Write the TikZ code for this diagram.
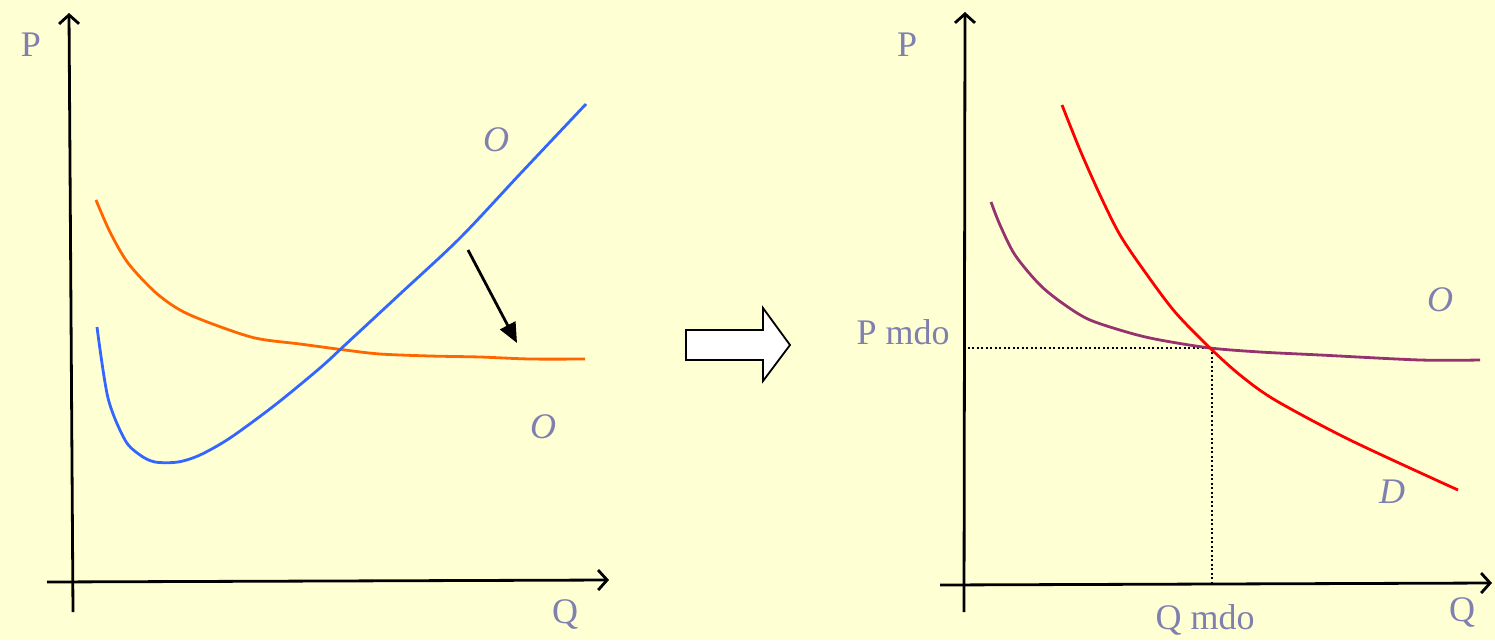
\documentclass[tikz,border=0pt]{standalone}
\usepackage{fontspec}
\setmainfont{Liberation Serif}
\usetikzlibrary{arrows.meta}
\definecolor{bg}{RGB}{255,255,212}
\definecolor{lbl}{RGB}{128,128,176}
\definecolor{bluec}{RGB}{51,102,255}
\definecolor{orangec}{RGB}{255,102,0}
\definecolor{purplec}{RGB}{150,50,110}
\definecolor{redc}{RGB}{255,0,0}
\tikzset{
  axis/.style={line width=2.8pt,-{Straight Barb[length=9pt,width=20pt,line width=2.8pt]}},
  lab/.style={text=lbl,font=\fontsize{36}{36}\selectfont,inner sep=0pt},
  ilab/.style={lab,font=\fontsize{36}{36}\selectfont\itshape},
  curve/.style={line width=2.8pt,smooth,tension=0.5},
  guide/.style={line width=2.5pt,dash pattern=on 2pt off 2.5pt}
}
\begin{document}
\begin{tikzpicture}[x=1pt,y=-1pt]
\fill[bg] (0,0) rectangle (1495,640);
\useasboundingbox (0,0) rectangle (1495,640);
% left axes
\coordinate (LV0) at (73,612); \coordinate (LV1) at (69,13);
\coordinate (LH0) at (47,582); \coordinate (LH1) at (609,580);
\draw[axis] (LV0) -- (LV1);
\draw[axis] (LH0) -- (LH1);
\node[lab] (LP) at (31,45) {P};
\node[lab] (LQ) at (565,614) {Q};
\node[ilab] (LO1) at (496,140) {O};
\node[ilab] (LO2) at (543,427) {O};
% orange curve
\draw[orangec,curve] plot coordinates {(96,200) (110,232) (128,263) (155,292) (180,310) (210,323) (255,338) (300,344) (345,350) (380,354) (430,356) (480,357) (530,359) (585,359)};
% blue curve
\draw[bluec,curve] plot coordinates {(97,327) (108,398) (125,440) (140,455) (155,462) (178,462) (200,455) (230,438) (275,405) (320,368) (345,345) (400,294) (460,238) (520,174) (586,104)};
% shift arrow
\coordinate (SA0) at (468,250); \coordinate (SA1) at (517,343);
\draw[line width=2.8pt,-{Triangle[length=20pt,width=17pt]}] (SA0) -- (SA1);
% fat arrow
\draw[line width=1.8pt,fill=white,line join=miter] (686,330) -- (763,330) -- (763,308) -- (790,345) -- (763,381) -- (763,360) -- (686,360) -- cycle;
% right axes
\coordinate (RV0) at (964,612); \coordinate (RV1) at (965,12);
\coordinate (RH0) at (940,585); \coordinate (RH1) at (1492,583);
\draw[axis] (RV0) -- (RV1);
\draw[axis] (RH0) -- (RH1);
\node[lab] (RP) at (907,45) {P};
\node[lab] (RQ) at (1462,612) {Q};
\node[lab] (Qm) at (1205,620) {Q mdo};
\node[lab] (Pm) at (903,332) {P mdo};
\node[ilab] (RO) at (1440,300) {O};
\node[ilab] (RD) at (1392,492) {D};
% equilibrium guides
\coordinate (E) at (1210,348);
\draw[guide] (963,348) -- (E);
\draw[guide] (1212,352) -- (1212,583);
% purple curve
\draw[purplec,curve] plot coordinates {(991,202) (1000,225) (1015,255) (1040,285) (1065,305) (1090,320) (1130,333) (1160,340) (1210,348) (1260,352) (1320,355) (1420,360) (1480,360)};
% red curve
\draw[redc,curve] plot coordinates {(1062,105) (1080,150) (1100,195) (1120,235) (1145,272) (1175,312) (1210,348) (1240,375) (1275,400) (1350,440) (1458,490)};
\end{tikzpicture}
\end{document}
